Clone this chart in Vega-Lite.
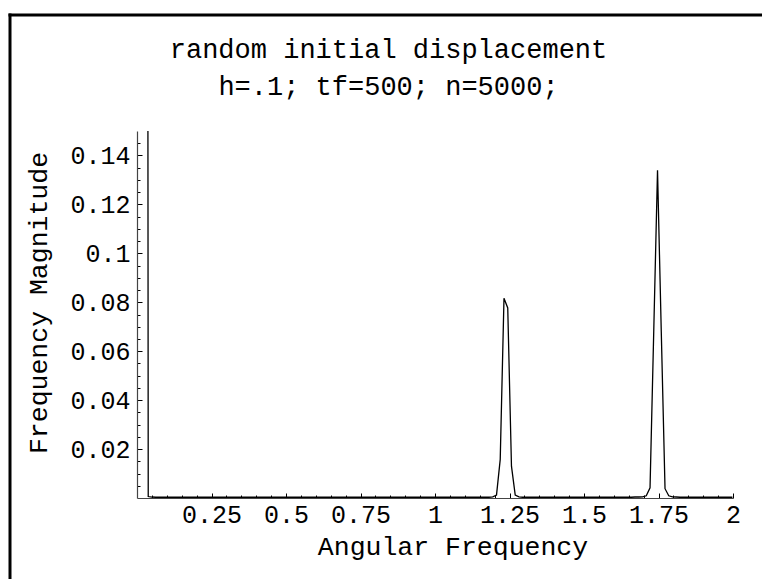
{
  "$schema": "https://vega.github.io/schema/vega-lite/v6.json",
  "width": 596,
  "height": 367,
  "autosize": {"type": "none"},
  "padding": {"left": 137, "top": 131, "right": 29, "bottom": 81},
  "background": "white",
  "config": {"view": {"stroke": null}, "font": "Liberation Mono"},
  "title": {
    "text": ["random initial displacement", "h=.1; tf=500; n=5000;"],
    "font": "Liberation Mono",
    "fontSize": 27,
    "fontWeight": "normal",
    "color": "black",
    "anchor": "middle",
    "frame": "group",
    "lineHeight": 37.6,
    "dx": -46.5,
    "offset": -87
  },
  "data": {
    "values": [
      {"w": 0.0126, "m": 2.5}, {"w": 0.0251, "m": 1.8}, {"w": 0.0377, "m": 0.0006},
      {"w": 0.0503, "m": 0.0004}, {"w": 0.0628, "m": 0.0003}, {"w": 0.0754, "m": 0.0003},
      {"w": 0.0880, "m": 0.0003}, {"w": 0.1005, "m": 0.0003}, {"w": 0.1131, "m": 0.0003},
      {"w": 0.1257, "m": 0.0003}, {"w": 0.1382, "m": 0.0003}, {"w": 0.1508, "m": 0.0003},
      {"w": 0.1634, "m": 0.0003}, {"w": 0.1759, "m": 0.0003}, {"w": 0.1885, "m": 0.0003},
      {"w": 0.2011, "m": 0.0003}, {"w": 0.2136, "m": 0.0003}, {"w": 0.2262, "m": 0.0003},
      {"w": 0.2388, "m": 0.0003}, {"w": 0.2513, "m": 0.0003}, {"w": 0.2639, "m": 0.0003},
      {"w": 0.2765, "m": 0.0003}, {"w": 0.2890, "m": 0.0003}, {"w": 0.3016, "m": 0.0003},
      {"w": 0.3142, "m": 0.0003}, {"w": 0.3267, "m": 0.0003}, {"w": 0.3393, "m": 0.0003},
      {"w": 0.3519, "m": 0.0003}, {"w": 0.3644, "m": 0.0003}, {"w": 0.3770, "m": 0.0003},
      {"w": 0.3896, "m": 0.0003}, {"w": 0.4021, "m": 0.0003}, {"w": 0.4147, "m": 0.0003},
      {"w": 0.4273, "m": 0.0003}, {"w": 0.4398, "m": 0.0003}, {"w": 0.4524, "m": 0.0003},
      {"w": 0.4650, "m": 0.0003}, {"w": 0.4775, "m": 0.0003}, {"w": 0.4901, "m": 0.0003},
      {"w": 0.5027, "m": 0.0003}, {"w": 0.5152, "m": 0.0003}, {"w": 0.5278, "m": 0.0003},
      {"w": 0.5404, "m": 0.0003}, {"w": 0.5529, "m": 0.0003}, {"w": 0.5655, "m": 0.0003},
      {"w": 0.5781, "m": 0.0003}, {"w": 0.5906, "m": 0.0003}, {"w": 0.6032, "m": 0.0003},
      {"w": 0.6158, "m": 0.0003}, {"w": 0.6283, "m": 0.0003}, {"w": 0.6409, "m": 0.0003},
      {"w": 0.6535, "m": 0.0003}, {"w": 0.6660, "m": 0.0003}, {"w": 0.6786, "m": 0.0003},
      {"w": 0.6912, "m": 0.0003}, {"w": 0.7037, "m": 0.0003}, {"w": 0.7163, "m": 0.0003},
      {"w": 0.7288, "m": 0.0003}, {"w": 0.7414, "m": 0.0003}, {"w": 0.7540, "m": 0.0003},
      {"w": 0.7665, "m": 0.0003}, {"w": 0.7791, "m": 0.0003}, {"w": 0.7917, "m": 0.0003},
      {"w": 0.8042, "m": 0.0003}, {"w": 0.8168, "m": 0.0003}, {"w": 0.8294, "m": 0.0003},
      {"w": 0.8419, "m": 0.0003}, {"w": 0.8545, "m": 0.0003}, {"w": 0.8671, "m": 0.0003},
      {"w": 0.8796, "m": 0.0003}, {"w": 0.8922, "m": 0.0003}, {"w": 0.9048, "m": 0.0003},
      {"w": 0.9173, "m": 0.0003}, {"w": 0.9299, "m": 0.0003}, {"w": 0.9425, "m": 0.0003},
      {"w": 0.9550, "m": 0.0003}, {"w": 0.9676, "m": 0.0003}, {"w": 0.9802, "m": 0.0003},
      {"w": 0.9927, "m": 0.0003}, {"w": 1.0053, "m": 0.0003}, {"w": 1.0179, "m": 0.0003},
      {"w": 1.0304, "m": 0.0003}, {"w": 1.0430, "m": 0.0003}, {"w": 1.0556, "m": 0.0003},
      {"w": 1.0681, "m": 0.0003}, {"w": 1.0807, "m": 0.0003}, {"w": 1.0933, "m": 0.0003},
      {"w": 1.1058, "m": 0.0003}, {"w": 1.1184, "m": 0.0003}, {"w": 1.1310, "m": 0.0003},
      {"w": 1.1435, "m": 0.0003}, {"w": 1.1561, "m": 0.0003}, {"w": 1.1687, "m": 0.0003},
      {"w": 1.1812, "m": 0.0003}, {"w": 1.1938, "m": 0.0005}, {"w": 1.2064, "m": 0.0012},
      {"w": 1.2189, "m": 0.0158}, {"w": 1.2315, "m": 0.0816}, {"w": 1.2441, "m": 0.0777},
      {"w": 1.2566, "m": 0.0130}, {"w": 1.2692, "m": 0.0012}, {"w": 1.2818, "m": 0.0005},
      {"w": 1.2943, "m": 0.0003}, {"w": 1.3069, "m": 0.0003}, {"w": 1.3195, "m": 0.0003},
      {"w": 1.3320, "m": 0.0003}, {"w": 1.3446, "m": 0.0003}, {"w": 1.3572, "m": 0.0003},
      {"w": 1.3697, "m": 0.0003}, {"w": 1.3823, "m": 0.0003}, {"w": 1.3949, "m": 0.0003},
      {"w": 1.4074, "m": 0.0003}, {"w": 1.4200, "m": 0.0003}, {"w": 1.4326, "m": 0.0003},
      {"w": 1.4451, "m": 0.0003}, {"w": 1.4577, "m": 0.0003}, {"w": 1.4703, "m": 0.0003},
      {"w": 1.4828, "m": 0.0003}, {"w": 1.4954, "m": 0.0003}, {"w": 1.5080, "m": 0.0003},
      {"w": 1.5205, "m": 0.0003}, {"w": 1.5331, "m": 0.0003}, {"w": 1.5457, "m": 0.0003},
      {"w": 1.5582, "m": 0.0003}, {"w": 1.5708, "m": 0.0003}, {"w": 1.5834, "m": 0.0003},
      {"w": 1.5959, "m": 0.0003}, {"w": 1.6085, "m": 0.0003}, {"w": 1.6210, "m": 0.0003},
      {"w": 1.6336, "m": 0.0003}, {"w": 1.6462, "m": 0.0003}, {"w": 1.6587, "m": 0.0003},
      {"w": 1.6713, "m": 0.0004}, {"w": 1.6839, "m": 0.0004}, {"w": 1.6965, "m": 0.0005},
      {"w": 1.7090, "m": 0.0009}, {"w": 1.7216, "m": 0.0042}, {"w": 1.7342, "m": 0.0690},
      {"w": 1.7467, "m": 0.1340}, {"w": 1.7593, "m": 0.0680}, {"w": 1.7719, "m": 0.0038},
      {"w": 1.7844, "m": 0.0009}, {"w": 1.7970, "m": 0.0005}, {"w": 1.8096, "m": 0.0004},
      {"w": 1.8221, "m": 0.0003}, {"w": 1.8347, "m": 0.0003}, {"w": 1.8473, "m": 0.0003},
      {"w": 1.8598, "m": 0.0003}, {"w": 1.8724, "m": 0.0003}, {"w": 1.8850, "m": 0.0003},
      {"w": 1.8975, "m": 0.0003}, {"w": 1.9101, "m": 0.0003}, {"w": 1.9227, "m": 0.0003},
      {"w": 1.9352, "m": 0.0003}, {"w": 1.9478, "m": 0.0003}, {"w": 1.9604, "m": 0.0003},
      {"w": 1.9729, "m": 0.0003}, {"w": 1.9855, "m": 0.0003}, {"w": 1.9981, "m": 0.0003}
    ]
  },
  "layer": [
    {
      "mark": {"type": "line", "clip": true, "color": "black", "strokeWidth": 1.3},
      "encoding": {
        "x": {
          "field": "w", "type": "quantitative",
          "scale": {"domain": [0, 2], "nice": false, "zero": false},
          "axis": {
            "orient": "bottom",
            "values": [0.05, 0.1, 0.15, 0.2, 0.25, 0.3, 0.35, 0.4, 0.45, 0.5, 0.55, 0.6, 0.65, 0.7, 0.75, 0.8, 0.85, 0.9, 0.95, 1, 1.05, 1.1, 1.15, 1.2, 1.25, 1.3, 1.35, 1.4, 1.45, 1.5, 1.55, 1.6, 1.65, 1.7, 1.75, 1.8, 1.85, 1.9, 1.95, 2],
            "labelExpr": "abs(datum.value*4 - round(datum.value*4)) < 0.001 ? format(datum.value, '~g') : ''",
            "tickSize": {"condition": {"test": "abs(datum.value*4 - round(datum.value*4)) < 0.001", "value": -5}, "value": -3},
            "tickColor": "black",
            "tickWidth": 1,
            "domainColor": "#444",
            "domainWidth": 1.2,
            "grid": false,
            "labelFont": "Liberation Mono",
            "labelFontSize": 25,
            "labelColor": "black",
            "labelBaseline": "alphabetic",
            "labelPadding": 29.7,
            "labelFlush": false,
            "labelOverlap": false,
            "title": "Angular Frequency",
            "titleFont": "Liberation Mono",
            "titleFontSize": 26.5,
            "titleFontWeight": "normal",
            "titleColor": "black",
            "titleX": 315.5,
            "titleY": 56.5,
            "titleAlign": "center",
            "titleBaseline": "alphabetic"
          }
        },
        "y": {
          "field": "m", "type": "quantitative",
          "scale": {"domain": [0, 0.15], "nice": false, "zero": false},
          "axis": {
            "orient": "left",
            "values": [0.005, 0.01, 0.015, 0.02, 0.025, 0.03, 0.035, 0.04, 0.045, 0.05, 0.055, 0.06, 0.065, 0.07, 0.075, 0.08, 0.085, 0.09, 0.095, 0.1, 0.105, 0.11, 0.115, 0.12, 0.125, 0.13, 0.135, 0.14, 0.145],
            "labelExpr": "abs(datum.value*50 - round(datum.value*50)) < 0.001 ? format(datum.value, '~g') : ''",
            "tickSize": {"condition": {"test": "abs(datum.value*50 - round(datum.value*50)) < 0.001", "value": -5}, "value": -3},
            "tickColor": "black",
            "tickWidth": 1,
            "domainColor": "#444",
            "domainWidth": 1.2,
            "grid": false,
            "labelFont": "Liberation Mono",
            "labelFontSize": 25,
            "labelColor": "black",
            "labelAlign": "right",
            "labelBaseline": "middle",
            "labelPadding": 12,
            "labelFlush": false,
            "labelOverlap": false,
            "title": "Frequency Magnitude",
            "titleFont": "Liberation Mono",
            "titleFontSize": 26.5,
            "titleFontWeight": "normal",
            "titleColor": "black",
            "titleAngle": -90,
            "titleX": -90.5,
            "titleY": 171.5,
            "titleAlign": "center",
            "titleBaseline": "alphabetic"
          }
        }
      }
    },
    {
      "mark": {"type": "point", "opacity": 0},
      "encoding": {
        "x": {
          "field": "w", "type": "quantitative",
          "scale": {"domain": [-1, 3], "range": [-129, 640], "nice": false, "zero": false},
          "axis": {"orient": "top", "offset": 116.5, "domain": true, "domainColor": "black", "domainWidth": 3, "ticks": false, "labels": false, "grid": false, "title": null}
        },
        "y": {
          "field": "m", "type": "quantitative",
          "scale": {"domain": [-2, 4], "range": [470, -118], "nice": false, "zero": false},
          "axis": {"orient": "left", "offset": 127.5, "domain": true, "domainColor": "black", "domainWidth": 3, "ticks": false, "labels": false, "grid": false, "title": null}
        }
      }
    }
  ],
  "resolve": {
    "scale": {"x": "independent", "y": "independent"},
    "axis": {"x": "independent", "y": "independent"}
  }
}
